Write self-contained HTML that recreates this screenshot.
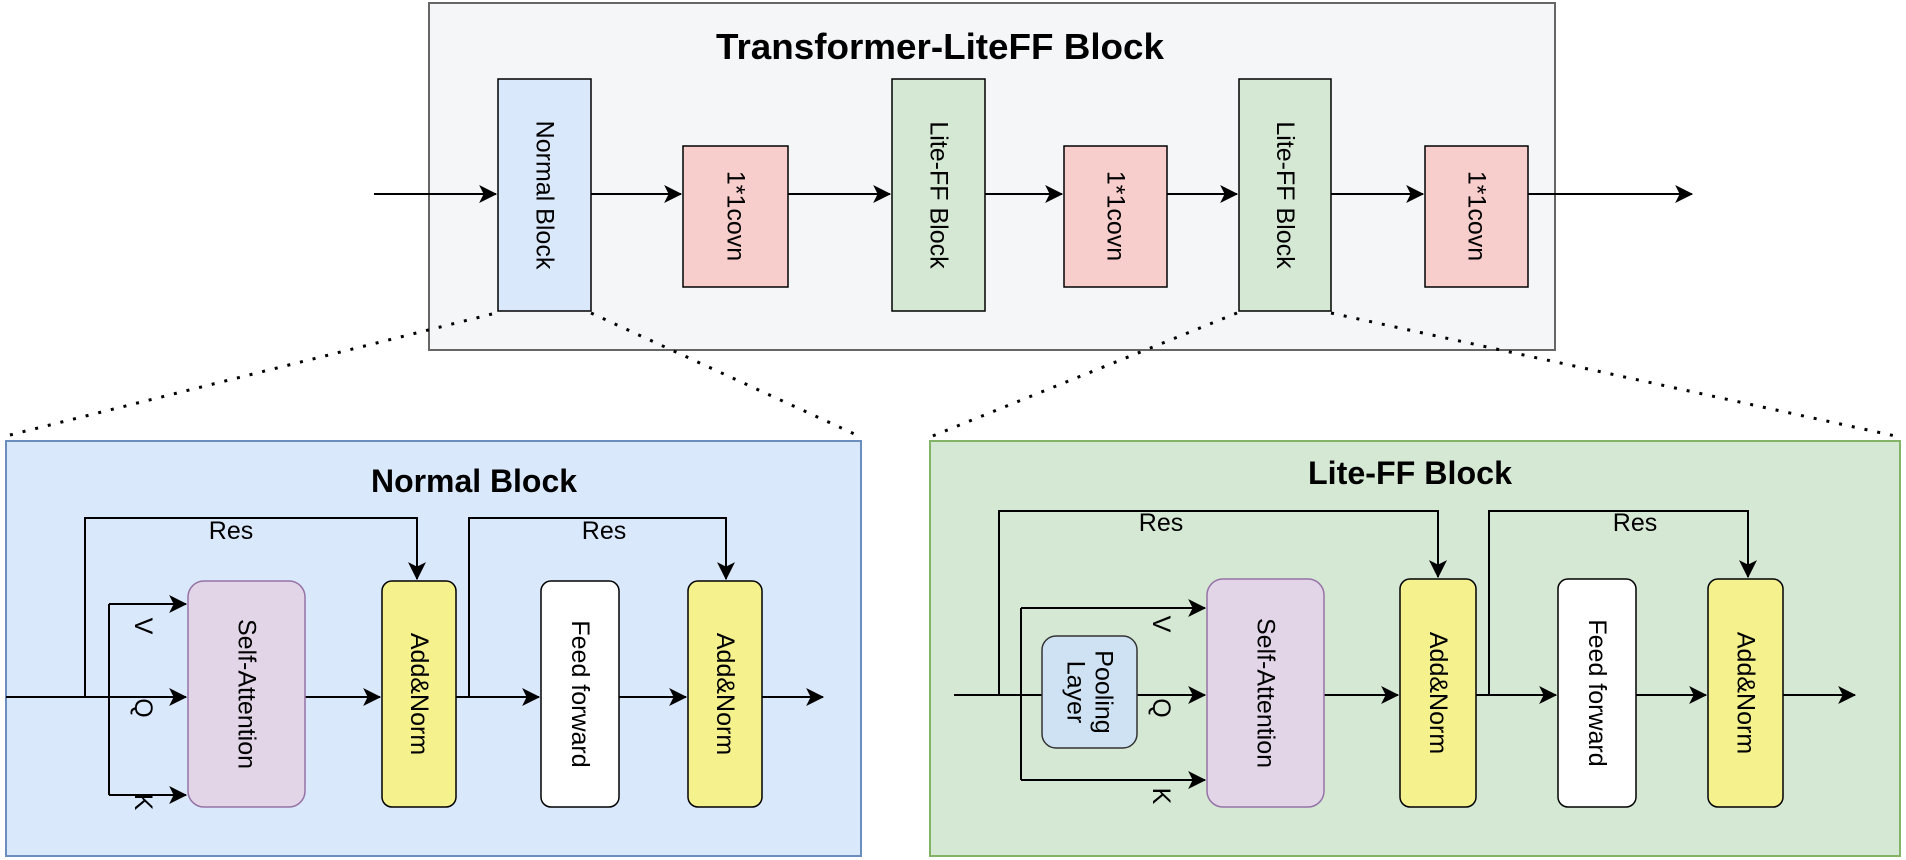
<!DOCTYPE html>
<html><head><meta charset="utf-8"><style>
html,body{margin:0;padding:0;background:#fff;}
svg{display:block;font-family:"Liberation Sans",Arial,sans-serif;}
</style></head><body>
<svg width="1906" height="860" viewBox="0 0 1906 860" xmlns="http://www.w3.org/2000/svg">
<defs>
<marker id="b" viewBox="0 0 16 16" refX="15" refY="8" markerWidth="18" markerHeight="18" markerUnits="userSpaceOnUse" orient="auto">
<path d="M0,0 L16,8 L0,16 L4,8 Z" fill="#000"/>
</marker>
</defs>
<rect x="429" y="3" width="1126" height="347" fill="#f5f6f8" stroke="#666" stroke-width="2"/>
<text x="940" y="59" font-size="36" font-weight="bold" text-anchor="middle" textLength="448" lengthAdjust="spacingAndGlyphs">Transformer-LiteFF Block</text>
<g stroke="#000" stroke-width="2" fill="none">
<line x1="374" y1="194" x2="496" y2="194" marker-end="url(#b)"/>
<line x1="591" y1="194" x2="681" y2="194" marker-end="url(#b)"/>
<line x1="788" y1="194" x2="890" y2="194" marker-end="url(#b)"/>
<line x1="985" y1="194" x2="1062" y2="194" marker-end="url(#b)"/>
<line x1="1167" y1="194" x2="1237" y2="194" marker-end="url(#b)"/>
<line x1="1331" y1="194" x2="1423" y2="194" marker-end="url(#b)"/>
<line x1="1528" y1="194" x2="1692" y2="194" marker-end="url(#b)"/>
</g>
<g stroke="#000" stroke-width="1.5">
<rect x="498" y="79" width="93" height="232" fill="#dae8fc"/>
<rect x="683" y="146" width="105" height="141" fill="#f8cecc"/>
<rect x="892" y="79" width="93" height="232" fill="#d5e8d4"/>
<rect x="1064" y="146" width="103" height="141" fill="#f8cecc"/>
<rect x="1239" y="79" width="92" height="232" fill="#d5e8d4"/>
<rect x="1425" y="146" width="103" height="141" fill="#f8cecc"/>
</g>
<g font-size="25" text-anchor="middle" dominant-baseline="central">
<text transform="translate(544.5,195) rotate(90)">Normal Block</text>
<text transform="translate(735.5,216) rotate(90)">1*1covn</text>
<text transform="translate(938.5,195) rotate(90)">Lite-FF Block</text>
<text transform="translate(1115.5,216) rotate(90)">1*1covn</text>
<text transform="translate(1285,195) rotate(90)">Lite-FF Block</text>
<text transform="translate(1476.5,216) rotate(90)">1*1covn</text>
</g>
<g stroke="#000" stroke-width="3" stroke-dasharray="3,10">
<line x1="492" y1="314" x2="2" y2="437"/>
<line x1="591" y1="313" x2="861" y2="437"/>
<line x1="1237" y1="313" x2="930" y2="437"/>
<line x1="1331" y1="313" x2="1900" y2="437"/>
</g>

<rect x="6" y="441" width="855" height="415" fill="#dae8fc" stroke="#6c8ebf" stroke-width="2"/>
<text x="474" y="492" font-size="32" font-weight="bold" text-anchor="middle" textLength="206" lengthAdjust="spacingAndGlyphs">Normal Block</text>
<g stroke="#000" stroke-width="2" fill="none">
<line x1="6" y1="697" x2="186" y2="697" marker-end="url(#b)"/>
<polyline points="85,697 85,518 417,518 417,579" marker-end="url(#b)"/>
<polyline points="109,604 109,795"/>
<line x1="109" y1="604" x2="186" y2="604" marker-end="url(#b)"/>
<line x1="109" y1="795" x2="186" y2="795" marker-end="url(#b)"/>
<line x1="305" y1="697" x2="380" y2="697" marker-end="url(#b)"/>
<line x1="456" y1="697" x2="539" y2="697" marker-end="url(#b)"/>
<polyline points="469,697 469,518 726,518 726,579" marker-end="url(#b)"/>
<line x1="619" y1="697" x2="686" y2="697" marker-end="url(#b)"/>
<line x1="762" y1="697" x2="823" y2="697" marker-end="url(#b)"/>
</g>
<rect x="188" y="581" width="117" height="226" rx="16" fill="#e1d5e7" stroke="#9673a6" stroke-width="1.5"/>
<rect x="382" y="581" width="74" height="226" rx="10" fill="#f5f28e" stroke="#000" stroke-width="1.5"/>
<rect x="541" y="581" width="78" height="226" rx="10" fill="#fff" stroke="#000" stroke-width="1.5"/>
<rect x="688" y="581" width="74" height="226" rx="10" fill="#f5f28e" stroke="#000" stroke-width="1.5"/>
<g font-size="25" text-anchor="middle" dominant-baseline="central">
<text x="231" y="531">Res</text>
<text x="604" y="531">Res</text>
<text transform="translate(246.5,694) rotate(90)">Self-Attention</text>
<text transform="translate(419,694) rotate(90)">Add&amp;Norm</text>
<text transform="translate(580,694) rotate(90)">Feed forward</text>
<text transform="translate(725,694) rotate(90)">Add&amp;Norm</text>
<text transform="translate(143,626) rotate(90)">V</text>
<text transform="translate(143,708) rotate(90)">Q</text>
<text transform="translate(143,802) rotate(90)">K</text>
</g>

<rect x="930" y="441" width="970" height="415" fill="#d5e8d4" stroke="#82b366" stroke-width="2"/>
<text x="1410" y="484" font-size="32" font-weight="bold" text-anchor="middle" textLength="204" lengthAdjust="spacingAndGlyphs">Lite-FF Block</text>
<g stroke="#000" stroke-width="2" fill="none">
<line x1="954" y1="695" x2="1205" y2="695" marker-end="url(#b)"/>
<polyline points="999,695 999,511 1438,511 1438,577" marker-end="url(#b)"/>
<polyline points="1021,608 1021,780"/>
<line x1="1021" y1="608" x2="1205" y2="608" marker-end="url(#b)"/>
<line x1="1021" y1="780" x2="1205" y2="780" marker-end="url(#b)"/>
<line x1="1324" y1="695" x2="1398" y2="695" marker-end="url(#b)"/>
<line x1="1476" y1="695" x2="1556" y2="695" marker-end="url(#b)"/>
<polyline points="1489,695 1489,511 1748,511 1748,577" marker-end="url(#b)"/>
<line x1="1636" y1="695" x2="1706" y2="695" marker-end="url(#b)"/>
<line x1="1783" y1="695" x2="1855" y2="695" marker-end="url(#b)"/>
</g>
<rect x="1042" y="636" width="95" height="112" rx="14" fill="#cfe2f3" stroke="#333" stroke-width="1.5"/>
<rect x="1207" y="579" width="117" height="228" rx="16" fill="#e1d5e7" stroke="#9673a6" stroke-width="1.5"/>
<rect x="1400" y="579" width="76" height="228" rx="10" fill="#f5f28e" stroke="#000" stroke-width="1.5"/>
<rect x="1558" y="579" width="78" height="228" rx="10" fill="#fff" stroke="#000" stroke-width="1.5"/>
<rect x="1708" y="579" width="75" height="228" rx="10" fill="#f5f28e" stroke="#000" stroke-width="1.5"/>
<g font-size="25" text-anchor="middle" dominant-baseline="central">
<text x="1161" y="523">Res</text>
<text x="1635" y="523">Res</text>
<text transform="translate(1089.5,692) rotate(90)"><tspan x="0" dy="-14">Pooling</tspan><tspan x="0" dy="28">Layer</tspan></text>
<text transform="translate(1265.5,693) rotate(90)">Self-Attention</text>
<text transform="translate(1438,693) rotate(90)">Add&amp;Norm</text>
<text transform="translate(1597,693) rotate(90)">Feed forward</text>
<text transform="translate(1745.5,693) rotate(90)">Add&amp;Norm</text>
<text transform="translate(1161,624) rotate(90)">V</text>
<text transform="translate(1161,708) rotate(90)">Q</text>
<text transform="translate(1161,796) rotate(90)">K</text>
</g>
</svg>
</body></html>
